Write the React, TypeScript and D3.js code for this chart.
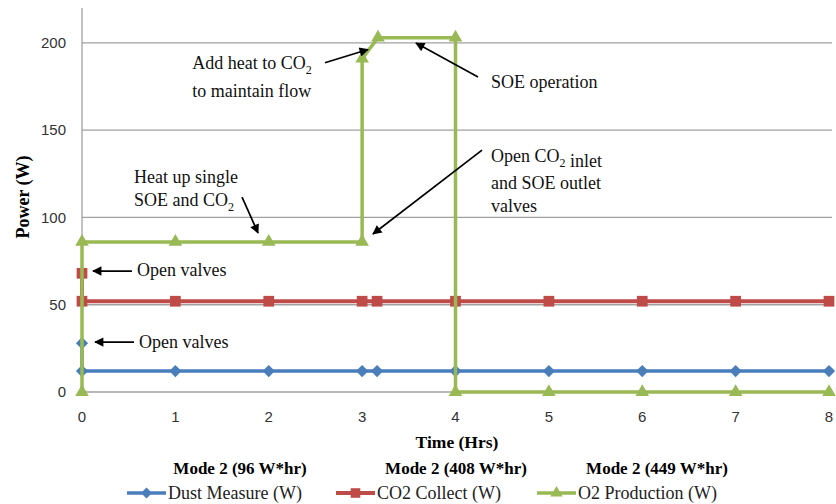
import React from 'react'
import { scaleLinear, line, symbol, symbolDiamond2, symbolSquare, symbolTriangle } from 'd3'

// hours / watts
const dustX = [0, 0, 1, 2, 3, 3.16, 4, 5, 6, 7, 8]
const dustY = [28, 12, 12, 12, 12, 12, 12, 12, 12, 12, 12]
const co2X = [0, 0, 1, 2, 3, 3.16, 4, 5, 6, 7, 8]
const co2Y = [68, 52, 52, 52, 52, 52, 52, 52, 52, 52, 52]
const o2X = [0, 0, 1, 2, 3, 3, 3.17, 4, 4, 5, 6, 7, 8]
const o2Y = [0, 86, 86, 86, 86, 191, 203, 203, 0, 0, 0, 0, 0]

const xTicks = [0, 1, 2, 3, 4, 5, 6, 7, 8]
const yTicks = [0, 50, 100, 150, 200]
const modeLabels = ['Mode 2 (96 W*hr)', 'Mode 2 (408 W*hr)', 'Mode 2 (449 W*hr)']
const legendNames = ['Dust Measure (W)', 'CO2 Collect (W)', 'O2 Production (W)']

// annotation text: [x, y, lines]; "_2" marks a subscript
const notes: Array<[number, number, string[]]> = [
    [1.182, 185, ['Add heat to CO_2', 'to maintain flow']],
    [4.38, 174.2, ['SOE operation']],
    [0.557, 119.7, ['Heat up single', 'SOE and CO_2']],
    [4.38, 131.8, ['Open CO_2 inlet', 'and SOE outlet', 'valves']],
    [0.589, 66.5, ['Open valves']],
    [0.61, 25.2, ['Open valves']],
]
// arrows: [x1, y1, x2, y2] in data units
const arrows = [
    [2.602, 188.6, 3.063, 196.2],
    [4.241, 180.5, 3.577, 199.9],
    [1.714, 111.7, 1.885, 91.1],
    [4.284, 138.6, 3.116, 90.5],
    [0.535, 69.3, 0.118, 69.3],
    [0.557, 28.6, 0.139, 28.6],
]

const BLUE = '#4a7ebb'
const RED = '#be4b48'
const GREEN = '#98b954'
const serif = '"Liberation Serif", "Times New Roman", serif'
const sans = '"Liberation Sans", Arial, sans-serif'

const width = 836
const height = 504

const x = scaleLinear().domain([0, 8]).range([82, 829])
const y = scaleLinear().domain([0, 220]).range([392, 8])

const series = [
    { xs: dustX, ys: dustY, color: BLUE, shape: symbolDiamond2, size: 95, lw: 3.5 },
    { xs: co2X, ys: co2Y, color: RED, shape: symbolSquare, size: 115, lw: 4 },
    { xs: o2X, ys: o2Y, color: GREEN, shape: symbolTriangle, size: 80, lw: 3.5 },
]

const renderLine = (s: string, key: number, lx: number, dy: number) => {
    const parts = s.split('_2')
    return (
        <tspan key={key} x={lx} dy={dy}>
            {parts.map((p, i) => (
                <React.Fragment key={i}>
                    <tspan>{p}</tspan>
                    {i < parts.length - 1 && <tspan fontSize={12} dy={5}>2</tspan>}
                    {i < parts.length - 1 && <tspan dy={-5}></tspan>}
                </React.Fragment>
            ))}
        </tspan>
    )
}

const App = () => {
    const path = line<[number, number]>().x(d => x(d[0])).y(d => y(d[1]))

    return (
        <svg width={width} height={height} style={{ position: 'absolute', left: 0, top: 0, background: '#fff' }}>
            <defs>
                <marker id="ah" viewBox="0 0 10 10" refX="9" refY="5" markerWidth="6" markerHeight="5.5" orient="auto">
                    <path d="M0,0 L10,5 L0,10 z" fill="#000" />
                </marker>
            </defs>

            {/* gridlines */}
            {yTicks.filter(t => t > 0).map(t => (
                <line key={t} x1={x(0)} x2={832} y1={y(t)} y2={y(t)} stroke="#a0a0a0" strokeWidth={1.3} />
            ))}
            <line x1={x(0)} x2={832} y1={y(0)} y2={y(0)} stroke="#a0a0a0" strokeWidth={1.3} />
            <line x1={x(0)} x2={x(0)} y1={y(220)} y2={y(0)} stroke="#a0a0a0" strokeWidth={1.3} />

            {/* tick labels */}
            {yTicks.map(t => (
                <text key={t} x={66} y={y(t)} dy="0.35em" textAnchor="end" fontFamily={sans} fontSize={15} fill="#333">{t}</text>
            ))}
            {xTicks.map(t => (
                <text key={t} x={x(t)} y={417} dy="0.35em" textAnchor="middle" fontFamily={sans} fontSize={15} fill="#333">{t}</text>
            ))}

            {/* series */}
            {series.map((s, i) => {
                const pts = s.xs.map((v, j) => [v, s.ys[j]] as [number, number])
                const sym = symbol().type(s.shape).size(s.size)()
                return (
                    <g key={i}>
                        <path d={path(pts) || ''} fill="none" stroke={s.color} strokeWidth={s.lw} />
                        {pts.map((p, j) => (
                            <path key={j} d={sym || ''} transform={`translate(${x(p[0])},${y(p[1])})`} fill={s.color} />
                        ))}
                    </g>
                )
            })}

            {/* annotations */}
            {arrows.map((a, i) => (
                <line key={i} x1={x(a[0])} y1={y(a[1])} x2={x(a[2])} y2={y(a[3])} stroke="#000" strokeWidth={1.7} markerEnd="url(#ah)" />
            ))}
            {notes.map(([nx, ny, lines], i) => (
                <text key={i} x={x(nx)} y={y(ny)} fontFamily={serif} fontSize={18} fill="#111">
                    {lines.map((l, j) => renderLine(l, j, x(nx), j === 0 ? 0 : 22.5))}
                </text>
            ))}

            {/* axis titles */}
            <text transform={`translate(29,197) rotate(-90)`} textAnchor="middle" fontFamily={serif} fontWeight="bold" fontSize={18}>Power (W)</text>
            <text x={457} y={448} textAnchor="middle" fontFamily={serif} fontWeight="bold" fontSize={17.5}>Time  (Hrs)</text>

            {modeLabels.map((m, i) => (
                <text key={i} x={[240, 456, 657][i]} y={474} textAnchor="middle" fontFamily={serif} fontWeight="bold" fontSize={17}>{m}</text>
            ))}

            {/* legend */}
            {legendNames.map((n, i) => {
                const s = series[i]
                const lx = [127, 336, 537][i]
                const sym = symbol().type(s.shape).size(s.size * 0.8)()
                return (
                    <g key={i}>
                        <line x1={lx} x2={lx + 39} y1={493} y2={493} stroke={s.color} strokeWidth={s.lw} />
                        <path d={sym || ''} transform={`translate(${lx + 19.5},493)`} fill={s.color} />
                        <text x={lx + 41} y={493} dy="0.35em" fontFamily={serif} fontSize={18} fill="#222">{n}</text>
                    </g>
                )
            })}
        </svg>
    )
}

export default App
